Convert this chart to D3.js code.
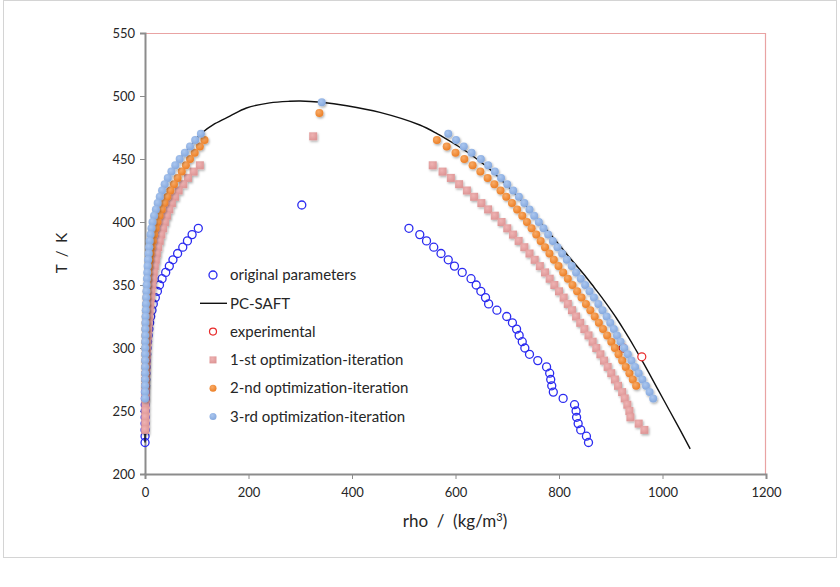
<!DOCTYPE html>
<html>
<head>
<meta charset="utf-8">
<script src="https://cdn.jsdelivr.net/npm/d3@7"></script>
<style>
  body { margin: 0; background: #fff; }
  svg { font-family: Lato, "Open Sans", sans-serif; }
</style>
</head>
<body>
<div id="chart"></div>
<script>
// ---- data (rho in kg/m3, T in K) ----
var origT = [395,390,385,380,375,370,365,360,355,350,345,340,335,330,325,320,315,310,305,300,295,290,285,280,275,270,265,260,255,250,245,240,235,230,225];
var origLeftRho = [103,91,82,73,63,54,47,40,33,28,24,20,16,13.5,11,9,7.5,6,5,4,3.3,2.7,2.2,1.8,1.4,1.1,0.9,0.7,0.5,0.4,0.3,0.2,0.15,0.1,0.05];
var origRightRho = [510,531,544,558,572,586,598,613,630,640,649,658,664,680,699,710,718,723,729,734,743,759,776,782,784,786,789,808,830,833,834,837,842,853,857];
var origCrit = [303, 413.5];

var firstT = [445,440,435,430,425,420,415,410,405,400,395,390,385,380,375,370,365,360,355,350,345,340,335,330,325,320,315,310,305,300,295,290,285,280,275,270,265,260,255,250,245,240,235];
var firstLeftRho = [106,94,83,74,65,58,52,47,42.5,38.5,35,31.5,28.5,25.5,23,21,19,17,15.5,14,12.5,11.2,10,9,8,7,6.2,5.4,4.7,4.1,3.5,3,2.6,2.2,1.9,1.6,1.3,1.1,0.9,0.7,0.6,0.5,0.4];
var firstRightRho = [556,575,591,607,622,636,650,663,676,689,700,711,722,733,743,753,763,773,782,791,800,809,817,825,833,841,849,857,865,872,880,887,894,901,908,914,922,927,932,936,938,954,965];
var firstCrit = [325, 468];

var secondT = [465,460,455,450,445,440,435,430,425,420,415,410,405,400,395,390,385,380,375,370,365,360,355,350,345,340,335,330,325,320,315,310,305,300,295,290,285,280,275,270];
var secondLeftRho = [115,106,96,87,79,71,63,56,49,43,37.5,32.5,28,24,20.5,17.5,15,12.7,10.7,9,7.5,6.2,5.1,4.2,3.4,2.8,2.2,1.8,1.4,1.1,0.9,0.7,0.55,0.45,0.35,0.28,0.22,0.17,0.13,0.1];
var secondRightRho = [564,583,600,617,633,648,662,675,687,698,709,719,729,738,747,756,764.5,773,781.5,790,799,808,817,826,835,843.5,852,860.5,869,877,885,893,901,908,915,922,929,936,942.5,949];
var secondCrit = [337, 486.5];

var thirdT = [470,465,460,455,450,445,440,435,430,425,420,415,410,405,400,395,390,385,380,375,370,365,360,355,350,345,340,335,330,325,320,315,310,305,300,295,290,285,280,275,270,265,260];
var thirdLeftRho = [108,97,87,77,67,58.5,51,44,38,33,28.5,24.5,21,17.5,14.5,12.5,10.5,9,8,7,6,5,4.3,3.7,3.2,2.7,2.2,1.8,1.4,1.0,0.7,0.5,0.4,0.3,0.25,0.2,0.15,0.12,0.1,0.08,0.06,0.05,0.04];
var thirdRightRho = [586,601,616,631,649,663,676,688,700,711.5,722.5,733,743,752,761,770,779,788,797,806,815,824.5,833,842,850.5,859,867.5,876,884,892,899,906,912,919,926,933,940,947,954,961,968,975,982];
var thirdCrit = [341.5, 495];

var expRho = [924, 960];
var expT = [300, 293];

var pcRho = [0,0.1,0.4,1.5,3,6,10.5,17,28,44,58,77,97,108,135,164,196,241,280,300,341,390,454,531,565,596,628,660,692,725,757,789,820,853,868,883,897,910.5,923,935,946.5,960.5,974,990,1014,1034,1053.5];
var pcT = [225,260,300,330,345,370,390,405,420,435,445,455,465,470,478,484,490.5,494.5,495.8,496,495,492.3,487,477,470,462.5,454,444,432,418,403,387.5,372,356,348,340,332,324,316,308,300,290,280,268,250,235,220];

var xTicks = [0,200,400,600,800,1000,1200];
var yTicks = [200,250,300,350,400,450,500,550];

var legendNames = ["original parameters","PC-SAFT","experimental","1-st optimization-iteration","2-nd optimization-iteration","3-rd optimization-iteration"];

// ---- layout ----
var W = 840, H = 587;
var plot = {left: 145, right: 766, top: 33, bottom: 474};

var svg = d3.select("#chart").append("svg")
    .attr("width", W)
    .attr("height", H);

var defs = svg.append("defs");
var shadow = defs.append("filter").attr("id", "shadow")
    .attr("x", "-50%").attr("y", "-50%").attr("width", "200%").attr("height", "200%");
shadow.append("feDropShadow")
    .attr("dx", 1).attr("dy", 1.4).attr("stdDeviation", 1.1)
    .attr("flood-color", "#000").attr("flood-opacity", 0.32);

function ball(id, c0, c1) {
    var g = defs.append("radialGradient").attr("id", id)
        .attr("cx", "40%").attr("cy", "35%").attr("r", "65%");
    g.append("stop").attr("offset", "0%").attr("stop-color", c0);
    g.append("stop").attr("offset", "100%").attr("stop-color", c1);
}
ball("gOrange", "#f8ab68", "#ec7f26");
ball("gBlue", "#aac6ef", "#86a9de");
ball("gPink", "#eeb3b3", "#de9696");

// outer chart frame
svg.append("rect")
    .attr("x", 3.5).attr("y", 0.5)
    .attr("width", 833).attr("height", 557)
    .attr("fill", "none")
    .attr("stroke", "#d4d4d4");

var x = d3.scaleLinear().domain([0, 1200]).range([plot.left, plot.right]);
var y = d3.scaleLinear().domain([200, 550]).range([plot.bottom, plot.top]);

// plot frame: top + right in pale red
svg.append("path")
    .attr("d", "M" + plot.left + "," + (plot.top + 0.5) + "H" + (plot.right - 0.5) + "V" + plot.bottom)
    .attr("fill", "none")
    .attr("stroke", "#e9a3a3")
    .attr("stroke-width", 1.2);

// axes
svg.append("g")
    .attr("class", "y axis")
    .attr("transform", "translate(" + plot.left + ",0)")
    .call(d3.axisLeft(y).tickValues(yTicks).tickFormat(d3.format("d")).tickSize(5).tickPadding(5));
svg.append("g")
    .attr("class", "x axis")
    .attr("transform", "translate(0," + plot.bottom + ")")
    .call(d3.axisBottom(x).tickValues(xTicks).tickFormat(d3.format("d")).tickSize(5).tickPadding(9));

svg.selectAll(".axis path").attr("stroke", "#8c8c8c").attr("stroke-width", 2);
svg.selectAll(".axis line").attr("stroke", "#8c8c8c").attr("stroke-width", 1);
svg.selectAll(".axis text").attr("fill", "#262626").style("font-size", "13px")
    .style("font-family", "Lato, 'Open Sans', sans-serif");

// axis titles
svg.append("text")
    .attr("transform", "translate(67,253) rotate(-90)")
    .attr("text-anchor", "middle")
    .attr("fill", "#262626")
    .style("font-size", "15px")
    .style("white-space", "pre")
    .text("T  /  K");

var xt = svg.append("text")
    .attr("x", 455).attr("y", 527)
    .attr("text-anchor", "middle")
    .attr("fill", "#262626")
    .style("font-size", "17px")
    .style("white-space", "pre");
xt.append("tspan").text("rho  /  (kg/m");
xt.append("tspan").attr("dy", -6).style("font-size", "11px").text("3");
xt.append("tspan").attr("dy", 6).text(")");

// helpers to build point lists from the arrays
function pts(rho, T) {
    return rho.map(function(r, i) { return {rho: r, T: T[i]}; });
}
function series(left, right, T, crit) {
    return pts(left, T).concat([{rho: crit[0], T: crit[1]}]).concat(pts(right, T));
}

var marks = svg.append("g");

// original parameters
marks.append("g").selectAll("circle")
    .data(series(origLeftRho, origRightRho, origT, origCrit))
    .enter().append("circle")
    .attr("cx", function(d) { return x(d.rho); })
    .attr("cy", function(d) { return y(d.T); })
    .attr("r", 4)
    .attr("fill", "none")
    .attr("stroke", "#2b2bf0")
    .attr("stroke-width", 1.3);

// PC-SAFT
var line = d3.line()
    .x(function(d) { return x(d.rho); })
    .y(function(d) { return y(d.T); })
    .curve(d3.curveCatmullRom.alpha(0.5));
marks.append("path")
    .datum(pts(pcRho, pcT))
    .attr("d", line)
    .attr("fill", "none")
    .attr("stroke", "#111")
    .attr("stroke-width", 1.4);

// experimental
marks.append("g").selectAll("circle")
    .data(pts(expRho, expT))
    .enter().append("circle")
    .attr("cx", function(d) { return x(d.rho); })
    .attr("cy", function(d) { return y(d.T); })
    .attr("r", 4)
    .attr("fill", "#fff")
    .attr("stroke", "#e82a2a")
    .attr("stroke-width", 1.2);

// 1-st iteration (squares)
marks.append("g").attr("filter", "url(#shadow)").selectAll("rect")
    .data(series(firstLeftRho, firstRightRho, firstT, firstCrit))
    .enter().append("rect")
    .attr("x", function(d) { return x(d.rho) - 4; })
    .attr("y", function(d) { return y(d.T) - 4; })
    .attr("width", 8)
    .attr("height", 8)
    .attr("fill", "url(#gPink)");

// 2-nd iteration
marks.append("g").attr("filter", "url(#shadow)").selectAll("circle")
    .data(series(secondLeftRho, secondRightRho, secondT, secondCrit))
    .enter().append("circle")
    .attr("cx", function(d) { return x(d.rho); })
    .attr("cy", function(d) { return y(d.T); })
    .attr("r", 4)
    .attr("fill", "url(#gOrange)");

// 3-rd iteration
marks.append("g").attr("filter", "url(#shadow)").selectAll("circle")
    .data(series(thirdLeftRho, thirdRightRho, thirdT, thirdCrit))
    .enter().append("circle")
    .attr("cx", function(d) { return x(d.rho); })
    .attr("cy", function(d) { return y(d.T); })
    .attr("r", 4)
    .attr("fill", "url(#gBlue)");

// legend
var legend = svg.append("g").attr("transform", "translate(213,275)");
var item = legend.selectAll("g")
    .data(legendNames)
    .enter().append("g")
    .attr("transform", function(d, i) { return "translate(0," + (i * 28.3) + ")"; });

item.append("text")
    .attr("x", 17).attr("y", 0)
    .attr("dy", "0.35em")
    .attr("fill", "#262626")
    .style("font-size", "15px")
    .text(function(d) { return d; });

item.each(function(d, i) {
    var g = d3.select(this);
    if (i == 0) g.append("circle").attr("r", 4).attr("fill", "none").attr("stroke", "#2b2bf0").attr("stroke-width", 1.3);
    if (i == 1) g.append("line").attr("x1", -13).attr("x2", 14).attr("stroke", "#111").attr("stroke-width", 1.4);
    if (i == 2) g.append("circle").attr("r", 3.5).attr("fill", "#fff").attr("stroke", "#e82a2a").attr("stroke-width", 1.2);
    if (i == 3) g.append("rect").attr("x", -3.5).attr("y", -3.5).attr("width", 7).attr("height", 7).attr("fill", "url(#gPink)");
    if (i == 4) g.append("circle").attr("r", 3.5).attr("fill", "url(#gOrange)");
    if (i == 5) g.append("circle").attr("r", 3.5).attr("fill", "url(#gBlue)");
});
</script>
</body>
</html>
